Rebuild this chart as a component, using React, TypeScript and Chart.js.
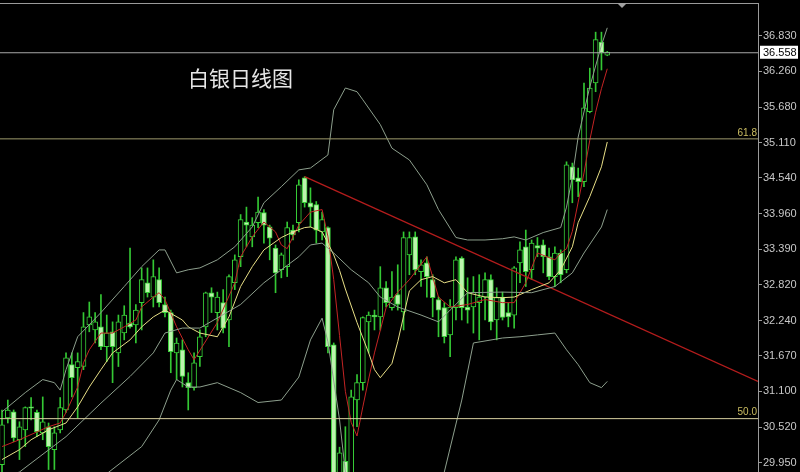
import React, { useEffect, useRef } from 'react';
import { Chart, registerables } from 'chart.js';

Chart.register(...registerables);

// ---------- data ----------
const titleText = '白银日线图';

const openP = [29.92, 30.67, 30.77, 30.32, 30.48, 30.85, 30.76, 30.43, 30.53, 30.16, 30.48, 30.80, 31.53, 31.48, 31.50, 32.17, 32.09, 32.14, 31.82, 32.06, 31.72, 32.04, 32.20, 32.17, 32.53, 32.85, 32.62, 32.90, 32.50, 32.37, 31.72, 31.77, 31.24, 31.16, 31.66, 32.14, 32.69, 32.37, 32.53, 32.25, 32.85, 33.27, 33.83, 33.59, 33.82, 33.98, 33.75, 33.41, 33.06, 33.11, 33.70, 33.82, 34.54, 34.14, 34.11, 33.67, 33.74, 31.85, 29.55, 29.97, 29.75, 30.96, 31.24, 32.22, 32.33, 32.30, 32.77, 32.45, 32.66, 32.38, 33.30, 33.59, 33.03, 33.17, 32.90, 32.58, 32.45, 32.01, 32.45, 33.25, 32.46, 32.46, 32.53, 32.62, 32.90, 32.25, 32.62, 32.37, 32.33, 33.17, 33.43, 33.06, 33.45, 33.46, 33.27, 32.95, 33.33, 33.06, 34.72, 34.54, 34.48, 35.61, 36.07, 36.73, 36.52];
const highP = [30.80, 30.96, 30.80, 30.61, 30.85, 31.00, 30.80, 31.01, 30.59, 30.53, 31.00, 31.72, 31.72, 31.72, 32.37, 32.54, 32.37, 32.66, 32.33, 32.22, 32.33, 32.48, 33.41, 32.50, 33.09, 33.09, 33.22, 33.09, 32.62, 32.41, 31.96, 31.93, 31.40, 31.72, 32.09, 32.70, 32.77, 32.70, 32.74, 32.98, 33.30, 33.95, 34.07, 33.90, 34.23, 34.03, 33.78, 33.46, 33.33, 33.83, 33.78, 34.51, 34.56, 34.38, 34.16, 33.99, 33.75, 31.88, 30.20, 30.53, 31.12, 31.37, 32.30, 32.38, 32.41, 33.11, 32.87, 33.03, 33.14, 33.67, 33.67, 33.67, 33.22, 33.27, 32.98, 32.62, 32.53, 32.58, 33.27, 33.27, 32.93, 32.95, 32.98, 33.01, 32.98, 32.77, 32.70, 32.53, 33.11, 33.51, 33.70, 33.54, 33.58, 33.54, 33.41, 33.43, 33.38, 34.80, 34.78, 34.70, 36.07, 36.31, 36.89, 36.89, 36.58];
const lowP = [29.80, 30.59, 30.29, 30.00, 30.21, 30.64, 30.37, 30.32, 29.84, 29.84, 30.43, 30.76, 31.01, 30.67, 31.45, 32.06, 31.88, 31.77, 31.58, 31.24, 31.50, 31.93, 32.12, 31.88, 32.09, 32.62, 32.46, 32.46, 32.30, 31.40, 31.29, 31.17, 30.80, 31.12, 31.50, 31.98, 32.37, 32.09, 32.04, 31.82, 32.74, 33.11, 33.43, 33.43, 33.74, 33.49, 33.22, 32.69, 32.93, 32.95, 33.54, 33.67, 34.07, 33.75, 33.49, 33.54, 31.72, 29.45, 29.45, 29.60, 29.65, 30.53, 31.12, 31.72, 32.09, 32.09, 32.46, 32.41, 32.41, 32.09, 32.98, 32.98, 32.79, 32.62, 32.30, 31.98, 31.88, 31.66, 32.25, 32.25, 32.20, 32.04, 31.93, 32.25, 32.09, 31.93, 32.25, 32.14, 32.12, 32.85, 32.79, 32.90, 33.27, 33.01, 32.90, 32.79, 32.85, 33.01, 34.14, 34.24, 34.40, 35.59, 35.93, 36.28, 36.51];
const closeP = [30.56, 30.80, 30.35, 30.53, 30.84, 30.83, 30.45, 30.61, 30.21, 30.43, 30.84, 31.64, 31.32, 31.58, 32.14, 32.30, 32.22, 31.82, 32.04, 31.82, 32.22, 32.33, 32.14, 32.41, 32.90, 32.69, 32.95, 32.53, 32.37, 31.74, 31.88, 31.34, 31.16, 31.56, 31.98, 32.69, 32.62, 32.62, 32.12, 32.95, 33.22, 33.87, 33.78, 33.78, 33.99, 33.78, 33.57, 33.01, 33.30, 33.74, 33.62, 34.43, 34.14, 34.07, 33.70, 33.87, 31.82, 29.55, 30.11, 29.70, 31.01, 31.24, 32.29, 32.33, 32.30, 32.77, 32.53, 32.62, 32.50, 33.58, 33.58, 33.06, 33.14, 32.95, 32.61, 32.41, 31.98, 32.46, 33.22, 32.45, 32.41, 32.70, 32.62, 32.90, 32.22, 32.61, 32.29, 32.30, 33.09, 33.38, 33.03, 33.49, 33.41, 33.27, 32.95, 33.33, 32.98, 34.75, 34.51, 34.48, 35.67, 35.99, 36.77, 36.56, 36.57];

// red short moving average
const redIdx = [0, 3, 8, 10, 11, 13, 14, 15, 17, 19, 21, 23, 24, 26, 27, 28, 30, 32, 33, 37, 40, 41, 43, 45, 47, 48, 49, 51, 53, 55, 56, 57, 58, 59, 60, 61, 62, 63, 64, 66, 68, 70, 73, 75, 77, 80, 83, 86, 88, 90, 92, 95, 96, 97, 98, 99, 100, 101, 102, 103, 104];
const redVal = [30.21, 30.32, 30.53, 30.59, 30.76, 31.17, 31.56, 31.77, 32.04, 32.04, 32.14, 32.25, 32.46, 32.62, 32.69, 32.58, 32.14, 31.77, 31.61, 32.21, 32.85, 33.27, 33.59, 33.83, 33.67, 33.46, 33.40, 33.78, 33.99, 34.03, 33.60, 32.90, 32.00, 31.10, 30.60, 30.38, 30.85, 31.30, 31.72, 32.45, 32.70, 32.90, 33.27, 32.62, 32.46, 32.50, 32.58, 32.53, 32.53, 32.85, 33.33, 33.22, 33.33, 33.40, 33.68, 34.15, 34.62, 35.15, 35.60, 35.98, 36.30];

// yellow medium moving average
const yellowIdx = [0, 3, 5, 8, 11, 13, 15, 17, 19, 22, 24, 26, 28, 31, 32, 34, 37, 39, 41, 43, 45, 48, 50, 52, 53, 55, 56, 57, 58, 59, 61, 63, 64, 65, 67, 68, 70, 72, 74, 76, 78, 80, 83, 86, 88, 91, 94, 96, 98, 99, 101, 103, 104];
const yellowVal = [30.00, 30.16, 30.32, 30.48, 30.59, 30.85, 31.17, 31.45, 31.72, 31.93, 32.14, 32.30, 32.41, 32.25, 32.14, 32.04, 31.98, 32.30, 32.79, 33.11, 33.38, 33.58, 33.67, 33.74, 33.75, 33.67, 33.49, 33.30, 33.05, 32.75, 32.21, 31.72, 31.45, 31.32, 31.55, 31.90, 32.72, 32.90, 32.95, 32.85, 32.90, 32.69, 32.62, 32.61, 32.62, 32.74, 32.85, 33.06, 33.43, 33.82, 34.24, 34.72, 35.12];

// band lines
const upperIdx = [0, 4, 7, 9, 10, 11, 13, 17, 21, 24, 27, 28, 30, 32, 34, 37, 40, 43, 45, 48, 51, 53, 56, 57, 59, 61, 62, 65, 67, 70, 73, 75, 78, 80, 83, 86, 88, 90, 93, 96, 97, 98, 99, 101, 103, 104];
const upperVal = [30.77, 31.08, 31.29, 31.24, 31.12, 31.45, 31.98, 32.37, 32.79, 33.11, 33.38, 33.38, 33.01, 33.06, 33.09, 33.22, 33.43, 33.75, 34.14, 34.40, 34.67, 34.70, 34.91, 35.64, 35.99, 35.93, 35.80, 35.40, 35.02, 34.83, 34.43, 34.03, 33.58, 33.54, 33.54, 33.56, 33.59, 33.54, 33.66, 33.74, 34.07, 34.56, 35.20, 36.01, 36.68, 36.96];
const middleIdx = [0, 3, 11, 17, 22, 26, 28, 31, 34, 41, 45, 48, 51, 53, 55, 57, 60, 63, 65, 68, 72, 75, 77, 80, 86, 91, 95, 98, 100, 103, 104];
const middleVal = [29.70, 29.80, 30.37, 30.91, 31.34, 31.72, 32.04, 32.12, 32.12, 32.50, 32.85, 33.06, 33.27, 33.46, 33.49, 33.33, 33.06, 32.85, 32.62, 32.46, 32.33, 32.22, 32.41, 32.69, 32.70, 32.69, 32.79, 33.01, 33.33, 33.75, 34.03];
const lowerIdx = [17, 24, 27, 29, 30, 32, 34, 37, 41, 44, 48, 51, 53, 55, 56, 58, 59, 62, 72, 76, 79, 81, 86, 89, 92, 95, 97, 99, 101, 103, 104];
const lowerVal = [29.70, 30.21, 30.64, 31.12, 31.29, 31.17, 31.17, 31.24, 31.08, 30.92, 30.96, 31.33, 31.93, 32.28, 31.90, 30.64, 29.80, 28.80, 28.80, 29.80, 30.96, 31.88, 31.96, 31.98, 32.01, 32.04, 31.77, 31.53, 31.24, 31.16, 31.26];

// trend line (two anchor points)
const trendIdx = [52, 129.9];
const trendVal = [34.56, 31.26];

// price levels
const currentPrice = 36.558;
const fibLevels = [35.17, 30.66];
const fibLabels = ['61.8', '50.0'];

// axis
const tickValues = [36.83, 36.26, 35.68, 35.11, 34.54, 33.96, 33.39, 32.82, 32.24, 31.67, 31.1, 30.52, 29.95];
const Y_MIN = 29.8;
const Y_MAX = 37.36;
const X_MIN = -0.344;
const X_MAX = 129.9;

const pts = (xs: number[], ys: number[]) => xs.map((x, k) => ({ x, y: ys[k] }));

const overlayPlugin = {
  id: 'overlay',
  afterDatasetsDraw(chart: any) {
    const { ctx, chartArea, scales } = chart;
    const ys = scales.y;
    ctx.save();
    // top frame line
    ctx.strokeStyle = '#9a9a9a';
    ctx.lineWidth = 1;
    ctx.beginPath();
    ctx.moveTo(0, chartArea.top + 0.5);
    ctx.lineTo(chartArea.right, chartArea.top + 0.5);
    ctx.stroke();
    // small marker triangle
    ctx.fillStyle = '#a0a0a0';
    ctx.beginPath();
    ctx.moveTo(617, chartArea.top);
    ctx.lineTo(627, chartArea.top);
    ctx.lineTo(622, chartArea.top + 5);
    ctx.closePath();
    ctx.fill();
    // fib labels
    ctx.font = '10px "Liberation Sans", Arial, sans-serif';
    ctx.fillStyle = '#cbbd62';
    ctx.textAlign = 'right';
    ctx.textBaseline = 'bottom';
    fibLevels.forEach((v, i) => {
      ctx.fillText(fibLabels[i], chartArea.right - 1, ys.getPixelForValue(v) - 1);
    });
    // current price box
    const py = ys.getPixelForValue(currentPrice);
    ctx.fillStyle = '#ffffff';
    ctx.fillRect(chartArea.right + 2, py - 7, 38, 13);
    ctx.fillStyle = '#000000';
    ctx.font = '11px "Liberation Sans", Arial, sans-serif';
    ctx.textAlign = 'left';
    ctx.textBaseline = 'middle';
    ctx.fillText(currentPrice.toFixed(3), chartArea.right + 5, py);
    // title
    ctx.fillStyle = '#e6e6e6';
    ctx.font = '21px "Noto Sans CJK SC", sans-serif';
    ctx.textAlign = 'left';
    ctx.textBaseline = 'middle';
    ctx.fillText(titleText, 188, 78);
    ctx.restore();
  },
};

export default function App() {
  const ref = useRef<HTMLCanvasElement | null>(null);

  useEffect(() => {
    document.body.style.margin = '0';
    document.body.style.background = '#000';
    const canvas = ref.current;
    if (!canvas) return;
    const idx = openP.map((_, i) => i);
    const bull = idx.map((i) => closeP[i] >= openP[i]);
    const lineDs = (label: string, xs: number[], vs: number[], color: string, width = 1) => ({
      type: 'line' as const,
      label,
      data: pts(xs, vs),
      borderColor: color,
      borderWidth: width,
      pointRadius: 0,
      tension: 0,
      fill: false,
      order: 0,
    });
    const chart = new Chart(canvas, {
      type: 'bar',
      data: {
        datasets: [
          lineDs('current', [X_MIN, X_MAX], [currentPrice, currentPrice], '#a8a8a8'),
          lineDs('fib618', [X_MIN, X_MAX], [fibLevels[0], fibLevels[0]], '#9e9a6c'),
          lineDs('fib50', [X_MIN, X_MAX], [fibLevels[1], fibLevels[1]], '#d8d0a0'),
          lineDs('upper', upperIdx, upperVal, '#8d9f8d'),
          lineDs('middle', middleIdx, middleVal, '#8d9f8d'),
          lineDs('lower', lowerIdx, lowerVal, '#8d9f8d'),
          lineDs('yellow', yellowIdx, yellowVal, '#e8df86'),
          lineDs('red', redIdx, redVal, '#c42424'),
          lineDs('trend', trendIdx, trendVal, '#b41c1c', 1.3),
          {
            type: 'bar' as const,
            label: 'wick',
            data: idx.map((i) => ({ x: i, y: [lowP[i], highP[i]] })) as any,
            backgroundColor: '#34c834',
            barThickness: 1,
            grouped: false,
            order: 2,
          },
          {
            type: 'bar' as const,
            label: 'body',
            data: idx.map((i) => ({ x: i, y: [openP[i], closeP[i]] })) as any,
            backgroundColor: idx.map((i) => (bull[i] ? '#000000' : '#bdf3ae')),
            borderColor: '#38cf38',
            borderWidth: 1,
            borderSkipped: false,
            barThickness: 5,
            grouped: false,
            order: 1,
          },
        ] as any,
      },
      options: {
        animation: false,
        responsive: false,
        layout: { padding: { top: 3, left: 0, right: 0, bottom: 0 } },
        plugins: {
          legend: { display: false },
          tooltip: { enabled: false },
        },
        scales: {
          x: {
            type: 'linear',
            min: X_MIN,
            max: X_MAX,
            offset: false,
            grid: { offset: false },
            display: false,
          },
          y: {
            type: 'linear',
            position: 'right',
            min: Y_MIN,
            max: Y_MAX,
            afterBuildTicks: (scale: any) => {
              scale.ticks = tickValues.map((v) => ({ value: v }));
            },
            afterFit: (scale: any) => {
              scale.width = 42;
              scale.paddingTop = 0;
              scale.paddingBottom = 0;
            },
            grid: {
              drawOnChartArea: false,
              drawTicks: true,
              tickLength: 4,
              color: '#9a9a9a',
            },
            border: { display: true, color: '#9a9a9a', width: 1 },
            ticks: {
              color: '#c8c8c8',
              padding: 1,
              font: { size: 11, family: '"Liberation Sans", Arial, sans-serif' },
              callback: (v: any) => Number(v).toFixed(3),
            },
          },
        },
      } as any,
      plugins: [overlayPlugin],
    });
    return () => chart.destroy();
  }, []);

  return (
    <div style={{ width: 800, height: 472, background: '#000', position: 'relative' }}>
      <canvas ref={ref} width={800} height={472} style={{ display: 'block' }} />
    </div>
  );
}
